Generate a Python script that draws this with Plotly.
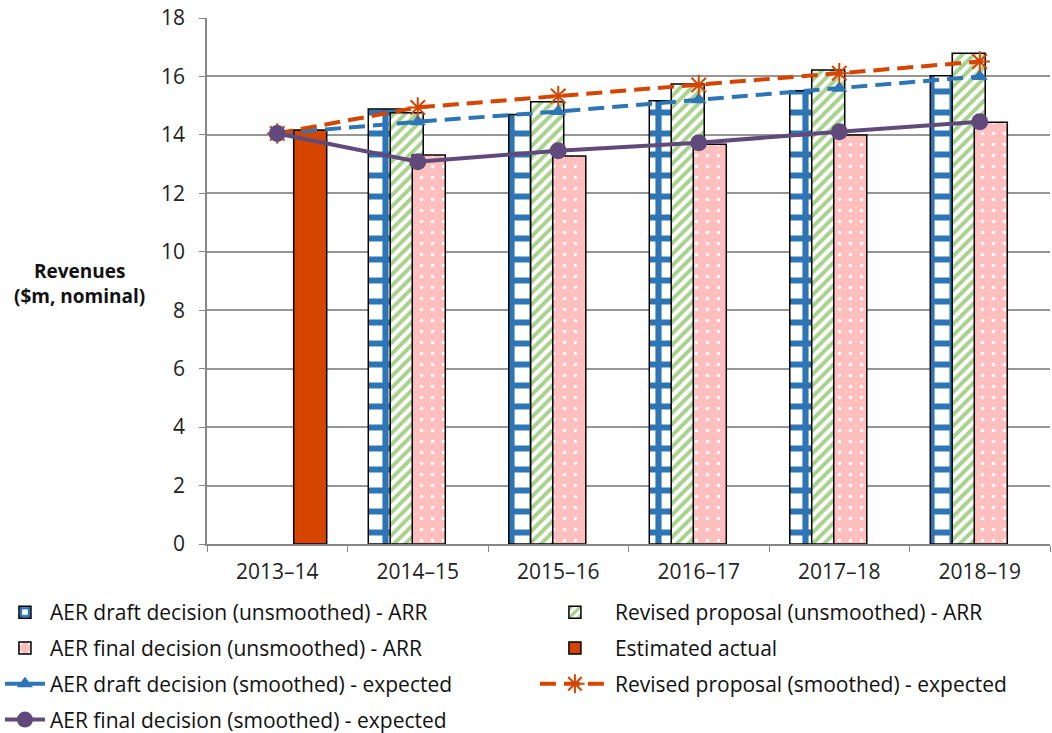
import plotly.graph_objects as go

# Financial years on the category axis
years = ["2013–14", "2014–15", "2015–16", "2016–17", "2017–18", "2018–19"]

# Unsmoothed annual revenue requirement ($m, nominal)
draft_unsmoothed = [None, 14.89, 14.70, 15.17, 15.51, 16.02]
revised_unsmoothed = [None, 14.76, 15.13, 15.74, 16.22, 16.79]
final_unsmoothed = [None, 13.31, 13.28, 13.68, 14.00, 14.43]
estimated_actual = [14.17, None, None, None, None, None]

# Smoothed expected revenues ($m, nominal)
draft_smoothed = [14.05, 14.45, 14.80, 15.20, 15.60, 16.00]
revised_smoothed = [14.05, 14.94, 15.33, 15.71, 16.11, 16.51]
final_smoothed = [14.05, 13.08, 13.46, 13.73, 14.11, 14.45]

y_ticks = list(range(0, 19, 2))

BLUE = "#2E75B6"
ORANGE = "#D54500"
GREEN = "#A9D18E"
PINK = "#FFBFBF"
PURPLE = "#604A7B"

FONT = "'Open Sans', 'Noto Sans', sans-serif"
BAR_W = 0.235
DASH = "16px,8px"

fig = go.Figure()

fig.add_trace(go.Bar(
    x=years, y=draft_unsmoothed, name="AER draft decision (unsmoothed) - ARR",
    width=BAR_W, offset=-0.352, legend="legend", legendgroup="a",
    marker=dict(color="white", line=dict(color="black", width=1.5),
                pattern=dict(shape="+", fgcolor=BLUE, bgcolor="white",
                             size=21, solidity=0.5, fillmode="replace")),
))
fig.add_trace(go.Bar(
    x=years, y=revised_unsmoothed, name="Revised proposal (unsmoothed) - ARR",
    width=BAR_W, offset=-0.196, legend="legend2", legendgroup="b",
    marker=dict(color="white", line=dict(color="black", width=1.5),
                pattern=dict(shape="/", fgcolor=GREEN, bgcolor="white",
                             size=8, solidity=0.5, fillmode="replace")),
))
fig.add_trace(go.Bar(
    x=years, y=final_unsmoothed, name="AER final decision (unsmoothed) - ARR",
    width=BAR_W, offset=-0.039, legend="legend", legendgroup="c",
    marker=dict(color=PINK, line=dict(color="black", width=1.5),
                pattern=dict(shape=".", fgcolor="white", bgcolor=PINK,
                             size=11, solidity=0.08, fillmode="replace")),
))
fig.add_trace(go.Bar(
    x=years, y=estimated_actual, name="Estimated actual",
    width=BAR_W, offset=0.117, legend="legend2", legendgroup="d",
    marker=dict(color=ORANGE, line=dict(color="black", width=1.5)),
))

fig.add_trace(go.Scatter(
    x=years, y=draft_smoothed, name="AER draft decision (smoothed) - expected",
    mode="lines+markers", legend="legend", legendgroup="e",
    line=dict(color=BLUE, width=4, dash=DASH),
    marker=dict(symbol="triangle-up", size=14, color=BLUE),
))
fig.add_trace(go.Scatter(
    x=years, y=revised_smoothed, name="Revised proposal (smoothed) - expected",
    mode="lines+markers", legend="legend2", legendgroup="f",
    line=dict(color=ORANGE, width=4, dash=DASH),
    marker=dict(symbol="asterisk-open", size=17, color=ORANGE,
                line=dict(color=ORANGE, width=2)),
))
fig.add_trace(go.Scatter(
    x=years, y=final_smoothed, name="AER final decision (smoothed) - expected",
    mode="lines+markers", legend="legend", legendgroup="g",
    line=dict(color=PURPLE, width=4),
    marker=dict(symbol="circle", size=17, color=PURPLE),
))

fig.add_annotation(
    text="<b>Revenues</b><br><b>($m, nominal)</b>",
    xref="paper", yref="paper", x=-0.151, y=0.496,
    xanchor="center", yanchor="middle", showarrow=False, align="center",
    font=dict(family=FONT, size=19, color="#111111"),
)

legend_common = dict(
    orientation="v", yanchor="top", xanchor="left",
    traceorder="grouped", tracegroupgap=5.5,
    bgcolor="rgba(0,0,0,0)",
    font=dict(family=FONT, size=21, color="#111111"),
)

fig.update_layout(
    width=1052, height=733,
    margin=dict(l=207, r=2, t=18, b=189, autoexpand=False),
    paper_bgcolor="white", plot_bgcolor="white",
    barmode="overlay",
    font=dict(family=FONT, size=21, color="#222222"),
    showlegend=True,
    legend=dict(x=-0.2456, y=-0.0913, itemwidth=40, **legend_common),
    legend2=dict(x=0.389, y=-0.0913, itemwidth=70, **legend_common),
    xaxis=dict(
        type="category", range=[-0.5, 5.5],
        showline=True, linecolor="#868686", linewidth=1.5,
        ticks="outside", tickson="boundaries", ticklen=6, tickcolor="#868686",
        ticklabelstandoff=8,
        showgrid=False, tickfont=dict(size=21, color="#222222"),
    ),
    yaxis=dict(
        range=[0, 18], tickvals=y_ticks,
        showline=True, linecolor="#868686", linewidth=1.5,
        ticks="outside", ticklen=6, tickcolor="#868686",
        ticklabelstandoff=10,
        showgrid=True, gridcolor="#969696", gridwidth=1.5,
        zeroline=False, tickfont=dict(size=21, color="#222222"),
    ),
)

fig.write_html("out.html")
